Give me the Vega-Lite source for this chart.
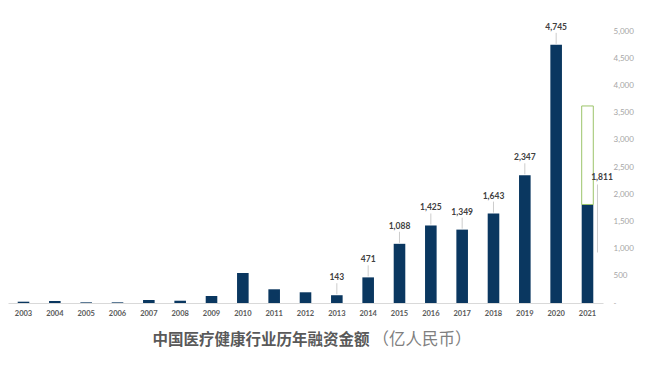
{
  "$schema": "https://vega.github.io/schema/vega-lite/v6.json",
  "autosize": "none",
  "width": 595,
  "height": 272,
  "padding": {"left": 8, "top": 31, "right": 63, "bottom": 63},
  "background": "white",
  "config": {"view": {"stroke": null}, "font": "Lato"},
  "data": {
    "values": [
      {"year": "2003", "value": 24},
      {"year": "2004", "value": 37},
      {"year": "2005", "value": 12},
      {"year": "2006", "value": 12},
      {"year": "2007", "value": 55},
      {"year": "2008", "value": 42},
      {"year": "2009", "value": 129},
      {"year": "2010", "value": 552},
      {"year": "2011", "value": 252},
      {"year": "2012", "value": 197},
      {"year": "2013", "value": 143},
      {"year": "2014", "value": 471},
      {"year": "2015", "value": 1088},
      {"year": "2016", "value": 1425},
      {"year": "2017", "value": 1349},
      {"year": "2018", "value": 1643},
      {"year": "2019", "value": 2347},
      {"year": "2020", "value": 4745},
      {"year": "2021", "value": 1811, "forecast": 3622}
    ]
  },
  "encoding": {
    "x": {
      "field": "year",
      "type": "ordinal",
      "scale": {"paddingInner": 0.63, "paddingOuter": 0.31},
      "axis": {
        "labelAngle": 0,
        "labelFontSize": 7.5,
        "labelFontWeight": "bold",
        "labelColor": "#595959",
        "labelPadding": 6,
        "ticks": false,
        "domainColor": "#d9d9d9",
        "domainWidth": 1,
        "title": "中国医疗健康行业历年融资金额",
        "titleFont": "Noto Sans CJK SC",
        "titleFontSize": 15.5,
        "titleFontWeight": "bold",
        "titleColor": "#595959",
        "titleAlign": "left",
        "titleBaseline": "middle",
        "titleAnchor": "start",
        "titleX": 144,
        "titleY": 36
      }
    },
    "y": {
      "field": "value",
      "type": "quantitative",
      "scale": {"domain": [0, 5000], "nice": false},
      "axis": {
        "orient": "right",
        "values": [0, 500, 1000, 1500, 2000, 2500, 3000, 3500, 4000, 4500, 5000],
        "labelExpr": "datum.value == 0 ? '-' : format(datum.value, ',')",
        "labelOverlap": false,
        "labelBound": false,
        "labelFontSize": 8,
        "labelColor": "#a6a6a6",
        "labelPadding": 10,
        "labelAlign": "left",
        "ticks": false,
        "domain": false,
        "grid": false,
        "title": "（亿人民币）",
        "titleFont": "Noto Sans CJK SC",
        "titleFontSize": 16.5,
        "titleFontWeight": "normal",
        "titleColor": "#7f7f7f",
        "titleAngle": 0,
        "titleAlign": "left",
        "titleBaseline": "middle",
        "titleX": -231,
        "titleY": 308
      }
    }
  },
  "layer": [
    {
      "mark": {"type": "bar", "color": "#0a3760"}
    },
    {
      "transform": [{"filter": "datum.forecast != null"}],
      "mark": {"type": "bar", "fill": "transparent", "stroke": "#9cc46a", "strokeWidth": 1},
      "encoding": {
        "y2": {"field": "forecast"}
      }
    },
    {
      "transform": [{"filter": "toNumber(datum.year) >= 2013 && toNumber(datum.year) <= 2020"}],
      "mark": {"type": "rule", "color": "#bfbfbf", "strokeWidth": 0.8, "yOffset": -1, "y2Offset": -12},
      "encoding": {
        "y2": {"field": "value"}
      }
    },
    {
      "transform": [{"filter": "toNumber(datum.year) >= 2013 && toNumber(datum.year) <= 2020"}],
      "mark": {"type": "text", "fontSize": 8.5, "fontWeight": "bold", "color": "#404040", "baseline": "middle", "yOffset": -18},
      "encoding": {
        "text": {"field": "value", "type": "quantitative", "format": ","}
      }
    },
    {
      "transform": [{"filter": "datum.year == '2021'"}],
      "mark": {"type": "rule", "color": "#bfbfbf", "strokeWidth": 0.8, "xOffset": 10, "yOffset": 48, "y2Offset": -20},
      "encoding": {
        "y2": {"field": "value"}
      }
    },
    {
      "transform": [{"filter": "datum.year == '2021'"}],
      "mark": {"type": "text", "fontSize": 8.5, "fontWeight": "bold", "color": "#404040", "baseline": "middle", "xOffset": 14.5, "yOffset": -27},
      "encoding": {
        "text": {"field": "value", "type": "quantitative", "format": ","}
      }
    }
  ]
}
